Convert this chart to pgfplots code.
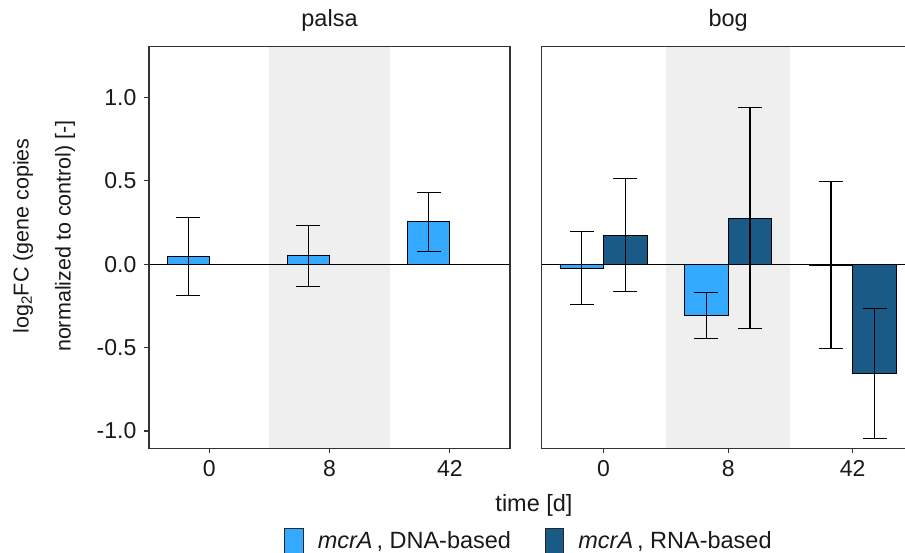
\documentclass[border=0pt]{standalone}
\usepackage{pgfplots}
\pgfplotsset{compat=1.18}
\usepackage{fontspec}
\setmainfont{Liberation Sans}
\definecolor{dnacol}{RGB}{51,170,255}
\definecolor{rnacol}{RGB}{26,90,135}
\definecolor{bandcol}{RGB}{239,239,239}
\definecolor{framecol}{RGB}{51,51,51}
\newcommand{\txt}{\fontsize{23.5}{27}\selectfont}
\newcommand{\tck}{\fontsize{23}{27}\selectfont}
\pgfplotsset{
  panel/.style={
    scale only axis, height=401.6pt,
    xmin=-0.5, xmax=2.5, ymin=-1.104, ymax=1.305,
    axis on top,
    axis line style={framecol, line width=1.1pt},
    xtick={0,1,2}, xticklabels={0,8,42},
    tick align=outside, xtick pos=bottom, ytick pos=left,
    major tick length=5pt,
    tick style={framecol, line width=1.1pt},
    ticklabel style={font=\tck, text=black!90},
    xticklabel style={anchor=base, inner sep=0pt, yshift=-23pt},
    yticklabel style={anchor=east, inner sep=0pt, xshift=-7.5pt},
    title style={at={(axis description cs:0.5,1)}, anchor=base, yshift=13.7pt, font=\txt, text=black!90, inner sep=0pt},
  },
  errs/.style={error bars/.cd, y dir=both, y explicit, error mark=|,
    error bar style={line width=1.2pt, black},
    error mark options={mark size=12pt, line width=1.2pt, black}},
  dnabar/.style={ybar, bar width=0.35, bar shift=0pt, fill=dnacol, draw=black, line width=0.9pt, errs},
  rnabar/.style={ybar, bar width=0.35, bar shift=0pt, fill=rnacol, draw=black, line width=0.9pt, errs},
}
\begin{document}
\begin{tikzpicture}[x=1pt,y=1pt]
\useasboundingbox (0,0) rectangle (905,553);
\clip (0,0) rectangle (905,553);
% palsa
\begin{axis}[panel, at={(149pt,104.7pt)}, anchor=south west, width=361pt,
  title={palsa},
  ytick={-1,-0.5,0,0.5,1}, yticklabels={{-1.0},{-0.5},{0.0},{0.5},{1.0}},
  ylabel={log\textsubscript{2}FC (gene copies\\normalized to control) [-]},
  ylabel style={at={(axis description cs:-0.2909,0.5286)}, anchor=center, align=center,
    font=\fontsize{21.5}{42}\selectfont, text=black!90},
]
\addplot[fill=bandcol, draw=none, forget plot] coordinates {(0.5,-1.5) (1.5,-1.5) (1.5,1.5) (0.5,1.5)} -- cycle;
\addplot[black, line width=0.8pt, forget plot] coordinates {(-0.5,0) (2.5,0)};
\addplot[dnabar] coordinates {
  (-0.175,0.046) +- (0,0.234)
  (0.825,0.050) +- (0,0.184)
  (1.825,0.254) +- (0,0.178)
};
\end{axis}
% bog
\begin{axis}[panel, at={(541.3pt,104.7pt)}, anchor=south west, width=373.7pt,
  title={bog}, ytick=\empty,
  legend columns=2,
  legend style={draw=none, fill=none, at={(axis description cs:-0.6885,-0.1992)}, anchor=north west,
    inner sep=0pt, font=\txt, text=black!90,
    nodes={inner sep=0pt}, cells={anchor=base west},
    /tikz/every odd column/.append style={column sep=14pt},
    /tikz/every even column/.append style={column sep=33.7pt}},
  legend image code/.code={\draw[#1, draw=black!85, line width=0.9pt] (0pt,-8pt) rectangle (18.7pt,20pt);},
]
\addplot[fill=bandcol, draw=none, forget plot] coordinates {(0.5,-1.5) (1.5,-1.5) (1.5,1.5) (0.5,1.5)} -- cycle;
\addplot[black, line width=0.8pt, forget plot] coordinates {(-0.5,0) (2.5,0)};
\addplot[dnabar] coordinates {
  (-0.175,-0.024) +- (0,0.219)
  (0.825,-0.308) +- (0,0.138)
  (1.825,-0.005) +- (0,0.502)
};
\addlegendentry{\textit{mcrA}\,, DNA-based}
\addplot[rnabar] coordinates {
  (0.175,0.174) +- (0,0.339)
  (1.175,0.276) +- (0,0.663)
  (2.175,-0.656) +- (0,0.389)
};
\addlegendentry{\textit{mcrA}\,, RNA-based}
\end{axis}
\node[anchor=base, font=\txt, text=black!90, inner sep=0pt] at (534,41) {time [d]};
\end{tikzpicture}
\end{document}
